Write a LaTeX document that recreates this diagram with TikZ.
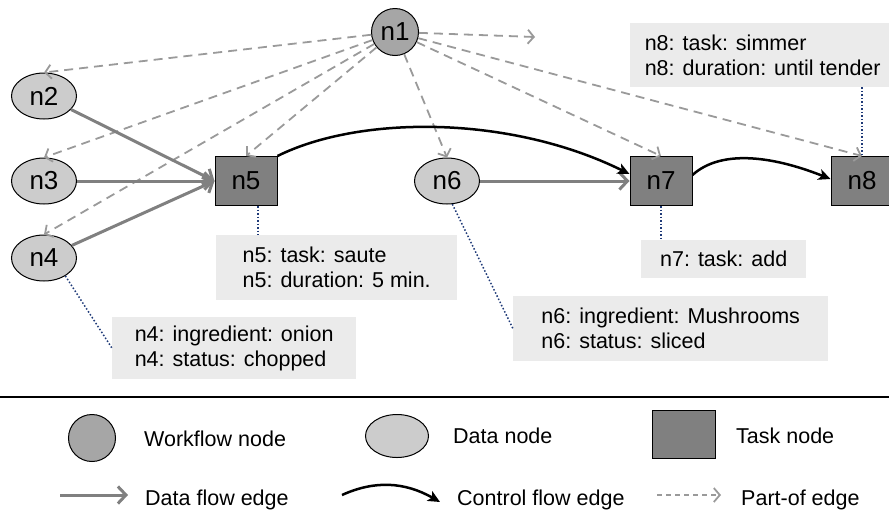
\documentclass[tikz,border=0pt]{standalone}
\usepackage{fontspec}
\setmainfont{Liberation Sans}
\usetikzlibrary{arrows.meta,shapes.geometric,calc}
\definecolor{wfgray}{HTML}{A6A6A6}
\definecolor{datagray}{HTML}{CCCCCC}
\definecolor{taskgray}{HTML}{808080}
\definecolor{boxgray}{HTML}{EBEBEB}
\definecolor{flowgray}{HTML}{808080}
\definecolor{partgray}{HTML}{9A9A9A}
\definecolor{navy}{HTML}{1F3A78}
\tikzset{
  lbl/.style={font=\fontsize{26}{28}\selectfont},
  wfnode/.style={circle,draw=black,line width=1pt,fill=wfgray,minimum size=47pt,inner sep=0pt,lbl},
  datanode/.style={ellipse,draw=black,line width=1pt,fill=datagray,minimum width=65pt,minimum height=46pt,inner sep=0pt,lbl},
  tasknode/.style={rectangle,draw=black,line width=1pt,fill=taskgray,minimum width=62pt,minimum height=49pt,inner sep=0pt,lbl},
  annbox/.style={rectangle,fill=boxgray,anchor=north west,align=left,inner xsep=11pt,inner ysep=0pt,
    font=\fontsize{21.5}{25}\selectfont},
  legtext/.style={anchor=base west,inner sep=0pt,font=\fontsize{21.5}{25}\selectfont},
  dataflow/.style={draw=flowgray,line width=3pt,-{Straight Barb[length=8pt,width=17pt]}},
  ctrlflow/.style={draw=black,line width=2.5pt,-{Stealth[length=12pt,width=11pt,inset=3pt]}},
  partof/.style={draw=partgray,line width=1.8pt,dash pattern=on 9pt off 6pt,-{Straight Barb[length=6pt,width=14pt]}},
  annline/.style={draw=navy,line width=1.5pt,dotted},
}
\begin{document}
\begin{tikzpicture}[x=1pt,y=-1pt]
\useasboundingbox (0,0) rectangle (889,515);
\clip (0,0) rectangle (889,515);

% nodes
\node[wfnode] (n1) at (395,32) {n1};
\node[datanode] (n2) at (44,96) {n2};
\node[datanode] (n3) at (44,181) {n3};
\node[datanode] (n4) at (44,258) {n4};
\node[tasknode] (n5) at (246,181) {n5};
\node[datanode] (n6) at (447,181) {n6};
\node[tasknode] (n7) at (661,181) {n7};
\node[tasknode] (n8) at (862,181) {n8};
\coordinate (free) at (535,37);

% annotation boxes
\node[annbox,minimum width=265pt,minimum height=64pt] (a8) at (630,23) {n8: task: simmer\\n8: duration: until tender};
\node[annbox,minimum width=241pt,minimum height=65pt] (a5) at (216,235) {n5: task: saute\\n5: duration: 5 min.};
\node[annbox,minimum width=244pt,minimum height=62pt] (a4) at (112,317) {n4: ingredient: onion\\n4: status: chopped};
\node[annbox,minimum width=165pt,minimum height=38pt] (a7) at (641,240) {n7: task: add};
\node[annbox,minimum width=315pt,minimum height=65pt] (a6) at (513,296) {n6: ingredient: Mushrooms\\n6: status: sliced};

% part-of edges
\draw[partof] (n1) -- (n2.north);
\draw[partof] (n1) -- (n3.north);
\draw[partof] (n1) -- (n4.north);
\draw[partof] (n1) -- (n5.north);
\draw[partof] (n1) -- (n6.north);
\draw[partof] (n1) -- (n7.north);
\draw[partof] (n1) -- (n8.north);
\draw[partof] (n1) -- (free);

% data flow edges
\draw[dataflow] (n2) -- (n5.west);
\draw[dataflow] (n3) -- (n5.west);
\draw[dataflow] (n4) -- (n5.west);
\draw[dataflow] (n6) -- (n7.west);

% control flow edges
\draw[ctrlflow] (n5.north east) .. controls (360,115) and (510,115) .. ($(n7.west)+(0,-7)$);
\draw[ctrlflow] ($(n7.east)+(0,-6)$) .. controls (720,150) and (770,155) .. ($(n8.west)+(0,-2)$);

% annotation links
\draw[annline] (n5.-64) -- (n5.-64 |- a5.north);
\draw[annline] (n7.south) -- (n7.south |- a7.north);
\draw[annline] (n8.north |- a8.south) -- (n8.north);
\draw[annline] (n4.-40) -- (a4.west);
\draw[annline] (n6.-77) -- (a6.west);

% separator
\coordinate (sepL) at (0,397);
\coordinate (sepR) at (889,397);
\draw[line width=2pt] (sepL) -- (sepR);

% legend
\node[wfnode] (lwf) at (92,438) {};
\node[legtext] (twf) at (144,446) {Workflow node};
\node[datanode,minimum width=63pt,minimum height=43pt] (ldata) at (397,436) {};
\node[legtext] (tdata) at (453,443) {Data node};
\node[tasknode,minimum width=63pt,minimum height=48pt] (ltask) at (684,434) {};
\node[legtext] (ttask) at (736,443) {Task node};

\coordinate (df1) at (60,495);
\coordinate (df2) at (128,495);
\draw[dataflow] (df1) -- (df2);
\node[legtext] (tdf) at (145,505) {Data flow edge};

\coordinate (cf1) at (342,495);
\coordinate (cf2) at (440,502);
\draw[ctrlflow] (cf1) .. controls (375,480) and (405,482) .. (cf2);
\node[legtext] (tcf) at (457,505) {Control flow edge};

\coordinate (po1) at (657,495);
\coordinate (po2) at (721,495);
\draw[partof,dash pattern=on 5pt off 4pt] (po1) -- (po2);
\node[legtext] (tpo) at (741,505) {Part-of edge};
\end{tikzpicture}
\end{document}
